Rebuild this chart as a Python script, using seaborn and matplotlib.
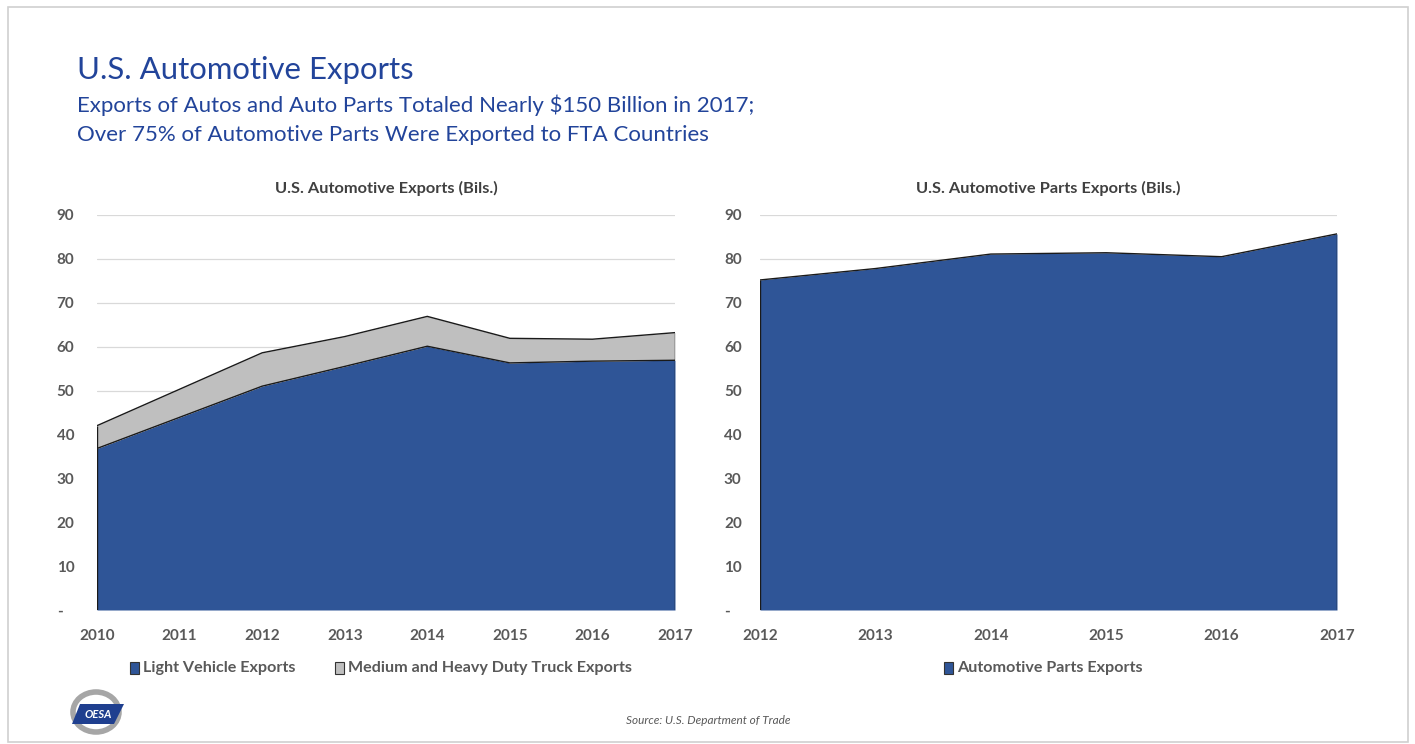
import numpy as np
import pandas as pd
import matplotlib
matplotlib.use("Agg")
import matplotlib.pyplot as plt
import seaborn as sns
from matplotlib.patches import Rectangle, Ellipse, Polygon

# ---- data ----
years_auto = [2010, 2011, 2012, 2013, 2014, 2015, 2016, 2017]
light_vehicle = [36.8, 43.9, 51.0, 55.5, 60.1, 56.3, 56.7, 56.9]
truck = [5.2, 6.4, 7.6, 6.8, 6.8, 5.6, 5.0, 6.3]

years_parts = [2012, 2013, 2014, 2015, 2016, 2017]
parts = [75.2, 77.8, 81.1, 81.4, 80.5, 85.7]

yticks = [0, 10, 20, 30, 40, 50, 60, 70, 80, 90]
ytick_labels = ["-", "10", "20", "30", "40", "50", "60", "70", "80", "90"]

title = "U.S. Automotive Exports"
subtitle_1 = "Exports of Autos and Auto Parts Totaled Nearly $150 Billion in 2017;"
subtitle_2 = "Over 75% of Automotive Parts Were Exported to FTA Countries"
left_title = "U.S. Automotive Exports (Bils.)"
right_title = "U.S. Automotive Parts Exports (Bils.)"
source = "Source: U.S. Department of Trade"

BLUE = "#2F5597"
GRAY = "#BFBFBF"
TITLE_BLUE = "#22449A"
TXT = "#595959"

sns.set_theme(style="white")
plt.rcParams['font.family'] = ['Lato', 'DejaVu Sans']

fig = plt.figure(figsize=(14.15, 7.44), dpi=100)
W, H = 1415, 744

def fx(px):
    return px / W

def fy(py):
    return 1 - py / H

# frame
fig.patches.append(Rectangle((fx(8), fy(742)), fx(1400), (735) / H, transform=fig.transFigure,
                             fill=False, edgecolor="#D0D0D0", linewidth=1.2))

fig.text(fx(77), fy(70), title, color=TITLE_BLUE, fontsize=22.4, va="center", ha="left")
fig.text(fx(77), fy(105), subtitle_1, color=TITLE_BLUE, fontsize=16.0, va="center", ha="left")
fig.text(fx(77), fy(135), subtitle_2, color=TITLE_BLUE, fontsize=16.0, va="center", ha="left")

ax1 = fig.add_axes([fx(97), fy(610), fx(675 - 97), (610 - 215) / H])
ax2 = fig.add_axes([fx(760), fy(610), fx(1337 - 760), (610 - 215) / H])

df_auto = pd.DataFrame({"year": years_auto, "light": light_vehicle, "truck": truck})
df_auto["total"] = df_auto["light"] + df_auto["truck"]
df_parts = pd.DataFrame({"year": years_parts, "parts": parts})

# left chart
ax1.fill_between(df_auto["year"], 0, df_auto["light"], color=BLUE, linewidth=0, zorder=2)
ax1.fill_between(df_auto["year"], df_auto["light"], df_auto["total"], color=GRAY, linewidth=0, zorder=2)
sns.lineplot(data=df_auto, x="year", y="light", ax=ax1, color="#1a1a1a", linewidth=1.0, zorder=3)
sns.lineplot(data=df_auto, x="year", y="total", ax=ax1, color="#1a1a1a", linewidth=1.0, zorder=3)
ax1.vlines([years_auto[0], years_auto[-1]], 0, [df_auto["total"].iloc[0], df_auto["total"].iloc[-1]],
           color="#1a1a1a", linewidth=1.0, zorder=3)
ax1.set_xlim(years_auto[0], years_auto[-1])
ax1.set_xticks(years_auto)

# right chart
ax2.fill_between(df_parts["year"], 0, df_parts["parts"], color=BLUE, linewidth=0, zorder=2)
sns.lineplot(data=df_parts, x="year", y="parts", ax=ax2, color="#1a1a1a", linewidth=1.0, zorder=3)
ax2.vlines([years_parts[0], years_parts[-1]], 0, [parts[0], parts[-1]],
           color="#1a1a1a", linewidth=1.0, zorder=3)
ax2.set_xlim(years_parts[0], years_parts[-1])
ax2.set_xticks(years_parts)

for ax, t, ypad in [(ax1, left_title, 29), (ax2, right_title, 26)]:
    ax.set_ylim(0, 90)
    ax.set_yticks(yticks)
    ax.set_yticklabels(ytick_labels)
    ax.grid(axis="y", color="#D9D9D9", linewidth=0.9, zorder=0)
    ax.set_axisbelow(True)
    for s in ax.spines.values():
        s.set_visible(False)
    ax.set_xlabel("")
    ax.set_ylabel("")
    ax.tick_params(axis="both", length=0, labelsize=11, labelcolor=TXT)
    ax.tick_params(axis="y", pad=ypad)
    ax.tick_params(axis="x", pad=14)
    for lab in ax.get_xticklabels() + ax.get_yticklabels():
        lab.set_fontweight("bold")
    for lab in ax.get_yticklabels():
        lab.set_horizontalalignment("left")
    ax.set_title(t, fontsize=11.8, fontweight="bold", color="#404040", pad=16)
    ax.patch.set_alpha(0)

# legends
def legend_item(xpx, ypx, color, label):
    fig.patches.append(Rectangle((fx(xpx), fy(ypx + 6)), fx(9), 12 / H, transform=fig.transFigure,
                                 facecolor=color, edgecolor="#333333", linewidth=0.8))
    fig.text(fx(xpx + 13), fy(ypx), label, fontsize=11.6, fontweight="bold", color=TXT,
             va="center", ha="left")

legend_item(130, 668, BLUE, "Light Vehicle Exports")
legend_item(335, 668, GRAY, "Medium and Heavy Duty Truck Exports")
legend_item(944, 668, BLUE, "Automotive Parts Exports")

fig.text(fx(708), fy(720), source, fontsize=8.5, style="italic", color=TXT, ha="center", va="center")

# logo
cx, cy = fx(96), fy(712)
fig.patches.append(Ellipse((cx, cy), fx(46), 40 / H, transform=fig.transFigure, fill=False,
                           edgecolor="#A6A6A6", linewidth=4))
poly = [(fx(72), fy(724)), (fx(114), fy(724)), (fx(124), fy(704)), (fx(80), fy(704))]
fig.patches.append(Polygon(poly, closed=True, transform=fig.transFigure, facecolor="#1F3F8F",
                           edgecolor="none"))
fig.text(fx(98), fy(714), "OESA", color="white", fontsize=8, fontweight="bold", style="italic",
         ha="center", va="center")

fig.savefig("out.png", dpi=100)
